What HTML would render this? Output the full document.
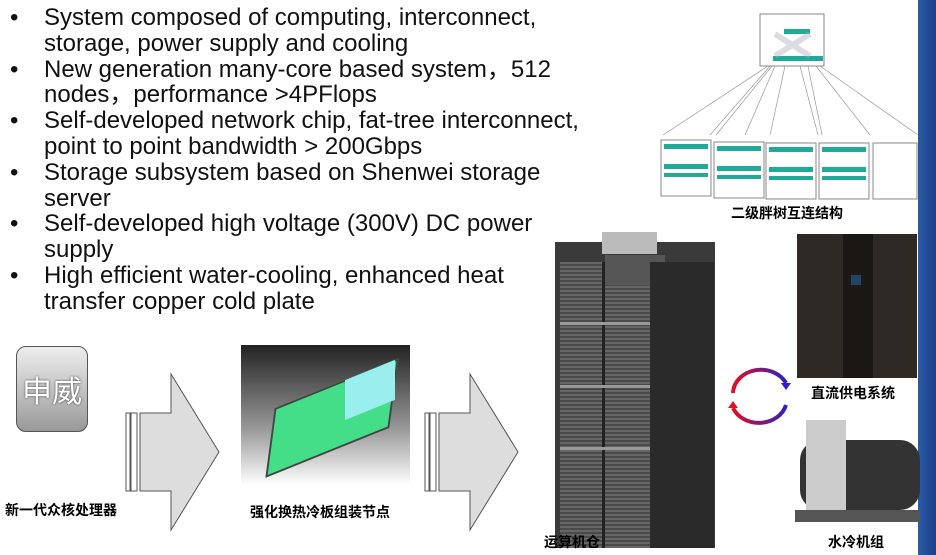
<!DOCTYPE html>
<html><head><meta charset="utf-8"><style>
body{margin:0;width:936px;height:555px;background:#fff;position:relative;overflow:hidden;font-family:"Liberation Sans","Noto Sans CJK SC",sans-serif}
.b{position:absolute;left:10px;font-size:24px;color:#111;line-height:25.8px;white-space:nowrap}
.b div{margin-left:34px;position:relative}
.b span{position:absolute;left:-34px}
.cn{position:absolute;font-weight:bold;font-size:14px;color:#000;font-family:"Liberation Sans","Noto Sans CJK SC",sans-serif}
.abs{position:absolute}
</style></head><body>
<div class="b" style="top:5px">
<div><span>•</span>System composed of computing, interconnect,<br>storage, power supply and cooling</div>
<div><span>•</span>New generation many-core based system，512<br>nodes，performance &gt;4PFlops</div>
<div><span>•</span>Self-developed network chip, fat-tree interconnect,<br>point to point bandwidth &gt; 200Gbps</div>
<div><span>•</span>Storage subsystem based on Shenwei storage<br>server</div>
<div><span>•</span>Self-developed high voltage (300V) DC power<br>supply</div>
<div><span>•</span>High efficient water-cooling, enhanced heat<br>transfer copper cold plate</div>
</div>
<div class="abs" style="left:918px;top:0;width:18px;height:555px;background:linear-gradient(90deg,#2a5aa8,#1a3f88)"></div>
<svg class="abs" style="left:0;top:0" width="936" height="555">
<rect x="760" y="14" width="64" height="52" fill="#fff" stroke="#888"/>
<rect x="784" y="29" width="26" height="5" fill="#2a9"/>
<rect x="773" y="56" width="50" height="5" fill="#2a9"/>
<path d="M775 34 L810 56 M810 34 L775 56" stroke="#aab" stroke-width="6" opacity=".4"/>
<g stroke="#999" stroke-width=".7" fill="none">
<path d="M768 66 L663 135 M770 66 L710 135 M772 66 L716 135 M775 66 L745 135 M785 66 L770 135 M800 66 L818 135 M808 66 L822 135 M816 66 L870 135 M820 66 L918 135"/>
</g>
<g fill="#fff" stroke="#888">
<rect x="661" y="140" width="50" height="56"/><rect x="714" y="142" width="50" height="56"/><rect x="766" y="143" width="50" height="56"/><rect x="819" y="143" width="50" height="56"/><rect x="873" y="143" width="44" height="56"/>
</g>
<g fill="#2a9">
<rect x="664" y="144" width="44" height="5"/><rect x="664" y="164" width="44" height="5"/><rect x="664" y="173" width="44" height="4"/>
<rect x="717" y="146" width="44" height="5"/><rect x="717" y="166" width="44" height="5"/><rect x="717" y="175" width="44" height="4"/>
<rect x="769" y="147" width="44" height="5"/><rect x="769" y="167" width="44" height="5"/><rect x="769" y="176" width="44" height="4"/>
<rect x="822" y="147" width="44" height="5"/><rect x="822" y="167" width="44" height="5"/><rect x="822" y="176" width="44" height="4"/>
</g>
<g fill="#ddd" stroke="#555" stroke-width="1">
<rect x="126" y="413" width="4" height="78" fill="#fff"/><rect x="131" y="413" width="6" height="78" fill="#fff"/>
<path d="M140 413 L171 413 L171 374 L219 452 L171 530 L171 491 L140 491 Z"/>
<rect x="425" y="413" width="4" height="78" fill="#fff"/><rect x="430" y="413" width="6" height="78" fill="#fff"/>
<path d="M439 413 L470 413 L470 374 L518 452 L470 530 L470 491 L439 491 Z"/>
</g>
<defs><linearGradient id="g" x1="0" x2="1"><stop offset="0" stop-color="#e01020"/><stop offset="1" stop-color="#3020c0"/></linearGradient></defs>
<path d="M733 393 A28 24 0 0 1 786 383" stroke="url(#g)" stroke-width="4" fill="none"/>
<path d="M786 405 A28 24 0 0 1 733 408" stroke="url(#g)" stroke-width="4" fill="none"/>
<path d="M781 383 L791 383 L786 390Z" fill="#3020c0"/><path d="M728 408 L738 408 L733 401Z" fill="#e01020"/>
</svg>
<div class="abs" style="left:16px;top:346px;width:70px;height:84px;border:1px solid #555;border-radius:10px;background:linear-gradient(#eee,#999);font-size:30px;color:#fff;text-align:center;line-height:84px;text-shadow:0 0 2px #333;font-family:'Noto Sans CJK SC',sans-serif">申威</div>
<div class="abs" style="left:241px;top:345px;width:169px;height:140px;background:linear-gradient(#222,#999 60%,#fff)"></div>
<div class="abs" style="left:270px;top:385px;width:120px;height:62px;background:#4d8;transform:skewY(-22deg) skewX(-8deg);border:2px solid #444"></div>
<div class="abs" style="left:345px;top:370px;width:50px;height:40px;background:#9ee;transform:skewY(-22deg)"></div>
<div class="abs" style="left:555px;top:242px;width:160px;height:306px;background:#3a3a3a"></div>
<div class="abs" style="left:560px;top:262px;width:92px;height:286px;background:repeating-linear-gradient(#666 0 2px,#4a4a4a 2px 4px)"></div>
<div class="abs" style="left:602px;top:262px;width:3px;height:286px;background:#222"></div>
<div class="abs" style="left:560px;top:322px;width:92px;height:3px;background:#999"></div>
<div class="abs" style="left:560px;top:385px;width:92px;height:3px;background:#999"></div>
<div class="abs" style="left:560px;top:447px;width:92px;height:3px;background:#999"></div>
<div class="abs" style="left:605px;top:255px;width:60px;height:30px;background:#555"></div>
<div class="abs" style="left:602px;top:232px;width:55px;height:22px;background:#bbb"></div>
<div class="abs" style="left:650px;top:262px;width:64px;height:286px;background:#2a2a2a"></div>
<div class="abs" style="left:797px;top:234px;width:120px;height:144px;background:#2e2924"></div>
<div class="abs" style="left:843px;top:234px;width:30px;height:144px;background:#1a1714"></div>
<div class="abs" style="left:851px;top:275px;width:10px;height:10px;background:#246"></div>
<div class="abs" style="left:800px;top:440px;width:120px;height:70px;background:#333;border-radius:20px"></div>
<div class="abs" style="left:806px;top:420px;width:40px;height:90px;background:#ccc"></div>
<div class="abs" style="left:795px;top:510px;width:125px;height:12px;background:#555"></div>
<div class="cn" style="left:731px;top:203px">二级胖树互连结构</div>
<div class="cn" style="left:5px;top:500px">新一代众核处理器</div>
<div class="cn" style="left:250px;top:502px">强化换热冷板组装节点</div>
<div class="cn" style="left:544px;top:532px">运算机仓</div>
<div class="cn" style="left:811px;top:383px">直流供电系统</div>
<div class="cn" style="left:828px;top:532px">水冷机组</div>
</body></html>
